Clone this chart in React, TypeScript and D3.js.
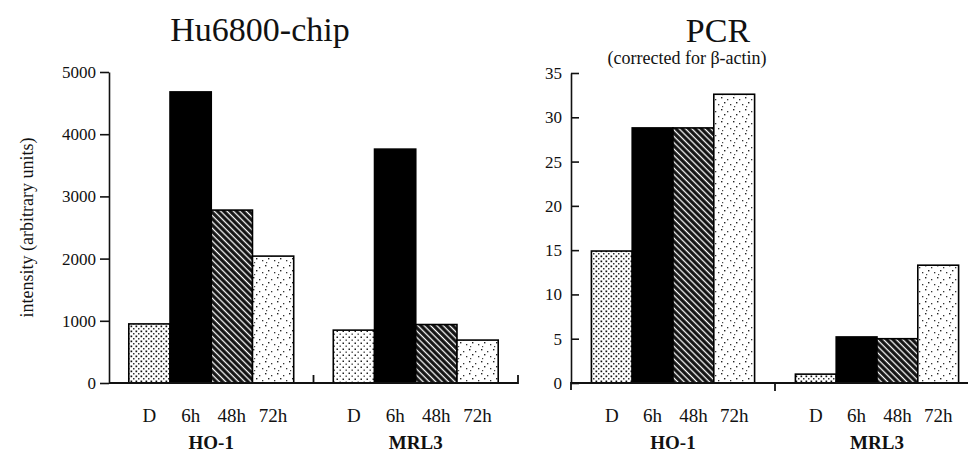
import * as d3 from 'd3';
import { useEffect, useRef } from 'react';

const GROUPS = ['HO-1', 'MRL3'];
const TIMES = ['D', '6h', '48h', '72h'];

// Hu6800-chip intensities (arbitrary units), per group in TIMES order
const CHIP_HO1 = [950, 4680, 2780, 2040];
const CHIP_MRL3 = [850, 3760, 940, 690];
const CHIP_TICKS = [0, 1000, 2000, 3000, 4000, 5000];

// PCR, corrected for beta-actin
const PCR_HO1 = [14.9, 28.8, 28.8, 32.6];
const PCR_MRL3 = [1.0, 5.2, 5.0, 13.3];
const PCR_TICKS = [0, 5, 10, 15, 20, 25, 30, 35];

const WIDTH = 970;
const HEIGHT = 460;
const BASE = 383;
const FONT = '"Liberation Serif", "Times New Roman", serif';

function fillFor(chart: 'chip' | 'pcr', group: string, time: string) {
  if (time === '6h') return '#000';
  if (time === '48h') return 'url(#hatch)';
  if (time === '72h') return 'url(#sparse)';
  if (chart === 'chip' && group === 'MRL3') return 'url(#medium)';
  return 'url(#dense)';
}

export default function App() {
  const leftAxisRef = useRef<SVGGElement>(null);
  const rightAxisRef = useRef<SVGGElement>(null);

  const yChip = d3.scaleLinear().domain([0, 5000]).range([BASE, 72]);
  const yPcr = d3.scaleLinear().domain([0, 35]).range([BASE, 73]);

  const xChipGroup = d3.scaleBand<string>().domain(GROUPS).range([109, 518]);
  const xChip = d3
    .scaleBand<string>()
    .domain(TIMES)
    .range([0, xChipGroup.bandwidth()])
    .paddingOuter(0.48);

  const xPcrGroup = d3.scaleBand<string>().domain(GROUPS).range([571, 979]);
  const xPcr = d3
    .scaleBand<string>()
    .domain(TIMES)
    .range([0, xPcrGroup.bandwidth()])
    .paddingOuter(0.5);

  const chipData: Record<string, number[]> = { 'HO-1': CHIP_HO1, MRL3: CHIP_MRL3 };
  const pcrData: Record<string, number[]> = { 'HO-1': PCR_HO1, MRL3: PCR_MRL3 };

  useEffect(() => {
    const left = d3
      .select(leftAxisRef.current!)
      .call(
        d3
          .axisLeft(yChip)
          .tickValues(CHIP_TICKS)
          .tickFormat(d3.format('d'))
          .tickSize(9)
          .tickSizeOuter(0)
          .tickPadding(4),
      );
    left.attr('font-family', FONT).attr('font-size', 17);
    left.selectAll('text').attr('fill', '#111');
    left.selectAll('line,path').attr('stroke', '#111').attr('stroke-width', 1.6);

    const right = d3
      .select(rightAxisRef.current!)
      .call(
        d3
          .axisLeft(yPcr)
          .tickValues(PCR_TICKS)
          .tickFormat(d3.format('d'))
          .tickSize(-8)
          .tickSizeOuter(0)
          .tickPadding(9),
      );
    right.attr('font-family', FONT).attr('font-size', 17);
    right.selectAll('text').attr('fill', '#111');
    right.selectAll('line,path').attr('stroke', '#111').attr('stroke-width', 1.6);
  });

  const renderBars = (
    chart: 'chip' | 'pcr',
    groupScale: d3.ScaleBand<string>,
    inner: d3.ScaleBand<string>,
    y: d3.ScaleLinear<number, number>,
    data: Record<string, number[]>,
  ) =>
    GROUPS.map((g) =>
      TIMES.map((t, i) => {
        const x = (groupScale(g) ?? 0) + (inner(t) ?? 0);
        return (
          <rect
            key={`${chart}-${g}-${t}`}
            x={x}
            y={y(data[g][i])}
            width={inner.bandwidth()}
            height={BASE - y(data[g][i])}
            fill={fillFor(chart, g, t)}
            stroke='#000'
            strokeWidth={1.6}
          />
        );
      }),
    );

  const renderLabels = (
    chart: string,
    groupScale: d3.ScaleBand<string>,
    inner: d3.ScaleBand<string>,
  ) =>
    GROUPS.map((g) => (
      <g key={`${chart}-lab-${g}`}>
        {TIMES.map((t) => (
          <text
            key={t}
            x={(groupScale(g) ?? 0) + (inner(t) ?? 0) + inner.bandwidth() / 2}
            y={422}
            textAnchor='middle'
            fontSize={19}
          >
            {t}
          </text>
        ))}
        <text
          x={(groupScale(g) ?? 0) + groupScale.bandwidth() / 2}
          y={449}
          textAnchor='middle'
          fontSize={19}
          fontWeight='bold'
        >
          {g}
        </text>
      </g>
    ));

  return (
    <svg
      width={WIDTH}
      height={HEIGHT}
      style={{ position: 'absolute', left: 0, top: 0, background: '#fff' }}
      fontFamily={FONT}
      fill='#111'
    >
      <defs>
        <pattern id='dense' width={5} height={5} patternUnits='userSpaceOnUse'>
          <rect width={5} height={5} fill='#fff' />
          <rect x={0.5} y={0.5} width={1.7} height={1.7} fill='#111' />
          <rect x={3} y={3} width={1.5} height={1.5} fill='#333' />
        </pattern>
        <pattern id='medium' width={6} height={6} patternUnits='userSpaceOnUse'>
          <rect width={6} height={6} fill='#fff' />
          <rect x={0.5} y={0.5} width={1.5} height={1.5} fill='#222' />
          <rect x={3.5} y={3.5} width={1.4} height={1.4} fill='#444' />
        </pattern>
        <pattern id='sparse' width={12} height={12} patternUnits='userSpaceOnUse'>
          <rect width={12} height={12} fill='#fff' />
          <rect x={1} y={1} width={1.4} height={1.4} fill='#222' />
          <rect x={7} y={3} width={1.3} height={1.3} fill='#333' />
          <rect x={4} y={6} width={1.4} height={1.4} fill='#222' />
          <rect x={10} y={8} width={1.3} height={1.3} fill='#333' />
          <rect x={2} y={10} width={1.2} height={1.2} fill='#444' />
        </pattern>
        <pattern
          id='hatch'
          width={4.5}
          height={4.5}
          patternUnits='userSpaceOnUse'
          patternTransform='rotate(-45)'
        >
          <rect width={4.5} height={4.5} fill='#111' />
          <line x1={2.2} y1={0} x2={2.2} y2={4.5} stroke='#fff' strokeWidth={1.3} />
        </pattern>
      </defs>

      {/* titles */}
      <text x={260} y={41} textAnchor='middle' fontSize={34}>
        Hu6800-chip
      </text>
      <text x={718} y={42} textAnchor='middle' fontSize={34}>
        PCR
      </text>
      <text x={687} y={64} textAnchor='middle' fontSize={18}>
        (corrected for β-actin)
      </text>
      <text
        transform={`translate(27,${(yChip(0) + yChip(5000)) / 2}) rotate(-90)`}
        textAnchor='middle'
        dominantBaseline='central'
        fontSize={18}
      >
        intensity (arbitrary units)
      </text>

      {/* bars */}
      {renderBars('chip', xChipGroup, xChip, yChip, chipData)}
      {renderBars('pcr', xPcrGroup, xPcr, yPcr, pcrData)}

      {/* x axis lines */}
      <g stroke='#111' strokeWidth={1.8} fill='none'>
        <path d={`M109,${BASE}H518V${BASE - 8}`} />
        <line x1={xChipGroup('MRL3')} x2={xChipGroup('MRL3')} y1={BASE} y2={BASE - 8} />
        <path d={`M571,${BASE + 7}V${BASE}H968`} />
        <line x1={xPcrGroup('MRL3')} x2={xPcrGroup('MRL3')} y1={BASE} y2={BASE + 8} />
      </g>

      <g ref={leftAxisRef} transform='translate(109,0)' />
      <g ref={rightAxisRef} transform='translate(571,0)' />

      {renderLabels('chip', xChipGroup, xChip)}
      {renderLabels('pcr', xPcrGroup, xPcr)}
    </svg>
  );
}
